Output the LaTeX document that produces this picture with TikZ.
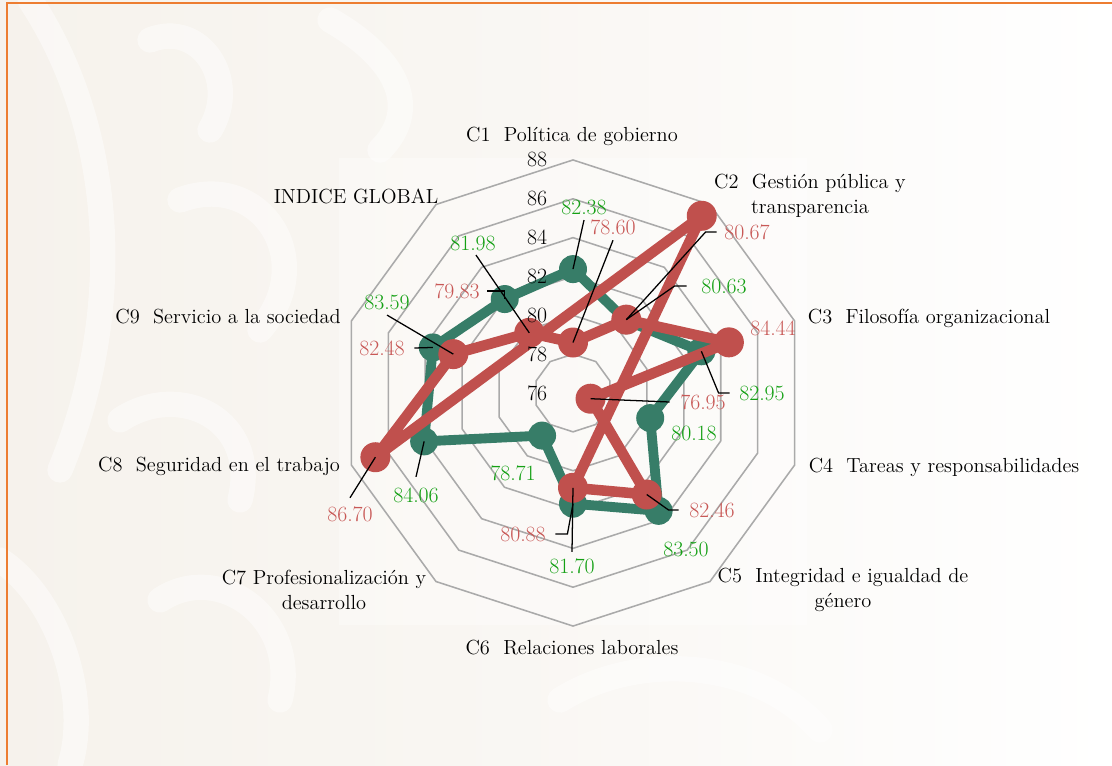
\documentclass[tikz,border=0pt]{standalone}
\usepackage{fontspec}
\usetikzlibrary{calc}
\definecolor{gser}{RGB}{55,125,104}
\definecolor{rser}{RGB}{192,80,77}
\definecolor{glab}{RGB}{20,160,20}
\definecolor{rlab}{RGB}{200,88,86}
\definecolor{gridgray}{RGB}{170,170,170}
\definecolor{bgbeige}{RGB}{246,242,236}
\definecolor{frameorange}{RGB}{237,125,49}
\tikzstyle{ring} = [gridgray, line width=1.1pt, line join=round]
\tikzstyle{gline} = [gser, line width=7pt, line join=round]
\tikzstyle{rline} = [rser, line width=7.5pt, line join=round]
\tikzstyle{leader} = [black, line width=0.9pt]
\tikzstyle{wm} = [white, line width=18pt, line cap=round, opacity=0.45]
\tikzstyle{cat} = [font=\fontsize{14.5}{18}\selectfont, align=center, inner sep=1pt]
\tikzstyle{tick} = [font=\fontsize{15.5}{18}\selectfont, inner sep=1pt]
\tikzstyle{glabel} = [font=\fontsize{15.5}{18}\selectfont, text=glab, inner sep=1pt]
\tikzstyle{rlabel} = [font=\fontsize{15.5}{18}\selectfont, text=rlab, inner sep=1pt]
\def\u{19.42}

\begin{document}
\begin{tikzpicture}[x=0.025cm, y=-0.025cm]
\useasboundingbox (0,0) rectangle (1112,765);

% background and watermark
\shade[left color=bgbeige, right color=white, middle color=bgbeige!60] (0,0) rectangle (1112,765);
\draw[wm] (30,0) .. controls (110,120) and (130,300) .. (60,470);
\draw[wm] (150,40) .. controls (200,20) and (240,80) .. (210,130);
\draw[wm] (180,200) .. controls (260,170) and (320,260) .. (260,330);
\draw[wm] (120,420) .. controls (180,380) and (260,420) .. (240,500);
\draw[wm] (0,560) .. controls (60,600) and (90,700) .. (70,765);
\draw[wm] (160,600) .. controls (220,560) and (300,620) .. (280,700);
\draw[wm] (330,20) .. controls (400,60) and (420,110) .. (380,150);
\draw[wm] (560,700) .. controls (640,650) and (760,660) .. (820,730);
\fill[white, opacity=0.35] (339,158) rectangle (807,625);
\draw[frameorange, line width=1.5pt] (7,765) -- (7,3) -- (1112,3);

\begin{scope}[shift={(573,393)}]
% rings 78 .. 88
\foreach \k in {2,4,...,12}
  \draw[ring] (-90:{\k*\u}) \foreach \a in {-54,-18,18,54,90,126,162,198,234} { -- (\a:{\k*\u}) } -- cycle;

% series points
\foreach \n/\a/\v in {c1/-90/6.38, c2/-54/4.63, c3/-18/6.95, c4/18/4.18, c5/54/7.50,
                      c6/90/5.70, c7/126/2.71, c8/162/8.06, c9/-162/7.59, ig/-126/5.98}
  \coordinate (g\n) at (\a:{\v*\u});
\foreach \n/\a/\v in {c1/-90/2.60, c2/-54/4.67, c3/-18/8.44, c4/18/0.95, c5/54/6.46,
                      c6/90/4.88, x/-54/11.28, c8/162/10.70, c9/-162/6.48, ig/-126/3.83}
  \coordinate (r\n) at (\a:{\v*\u});
\end{scope}

% green series
\draw[gline] (gc1) -- (gc2) -- (gc3) -- (gc4) -- (gc5) -- (gc6) -- (gc7) -- (gc8) -- (gc9) -- (gig) -- cycle;
\foreach \n in {c1,c2,c3,c4,c5,c6,c7,c8,c9,ig}
  \fill[gser] (g\n) circle (14);

% red series
\draw[rline] (rc1) -- (rc2) -- (rc3) -- (rc4) -- (rc5) -- (rc6) -- (rx) -- (rc8) -- (rc9) -- (rig) -- cycle;
\foreach \n in {c1,c2,c3,c4,c5,c6,x,c8,c9,ig}
  \fill[rser] (r\n) circle (15);

% axis values
\foreach \v in {76,78,...,88}
  \node[tick] (t\v) at (537,{393-(\v-76)*\u}) {\v};

% categories
\node[cat] (n1) at (572,136) {C1~~Política de gobierno};
\node[cat] (n2) at (810,196) {C2~~Gestión pública y\\transparencia};
\node[cat] (n3) at (929,318) {C3~~Filosofía organizacional};
\node[cat] (n4) at (944,467) {C4~~Tareas y responsabilidades};
\node[cat] (n5) at (843,590) {C5~~Integridad e igualdad de\\género};
\node[cat] (n6) at (572,648) {C6~~Relaciones laborales};
\node[cat] (n7) at (324,590) {C7 Profesionalización y\\desarrollo};
\node[cat] (n8) at (219,466) {C8~~Seguridad en el trabajo};
\node[cat] (n9) at (228,317) {C9~~Servicio a la sociedad};
\node[cat] (nig) at (356,196) {INDICE GLOBAL};

% data labels
\node[glabel] (lg1) at (584,207) {82.38};
\node[glabel] (lg2) at (724,286) {80.63};
\node[glabel] (lg3) at (762,393) {82.95};
\node[glabel] (lg4) at (694,433) {80.18};
\node[glabel] (lg5) at (686,549) {83.50};
\node[glabel] (lg6) at (572,566) {81.70};
\node[glabel] (lg7) at (513,473) {78.71};
\node[glabel] (lg8) at (416,495) {84.06};
\node[glabel] (lg9) at (387,302) {83.59};
\node[glabel] (lgig) at (473,243) {81.98};
\node[rlabel] (lr1) at (613,227) {78.60};
\node[rlabel] (lr2) at (747,232) {80.67};
\node[rlabel] (lr3) at (773,328) {84.44};
\node[rlabel] (lr4) at (703,402) {76.95};
\node[rlabel] (lr5) at (712,510) {82.46};
\node[rlabel] (lr6) at (523,534) {80.88};
\node[rlabel] (lr8) at (350,514) {86.70};
\node[rlabel] (lr9) at (382,348) {82.48};
\node[rlabel] (lrig) at (457,291) {79.83};

% leader lines
\draw[leader] ($(lg1.south)+(0,4)$) -- (gc1);
\draw[leader] ($(lr1.south)+(0,4)$) -- (rc1);
\draw[leader] ($(lgig.south)+(3,3)$) -- (rig);
\draw[leader] ($(lrig.east)+(6,0)$) -| (gig);
\draw[leader] ($(lg9.south)+(0,4)$) -- (rc9);
\draw[leader] ($(lr9.east)+(8,0)$) -- (gc9);
\draw[leader] ($(lr2.west)+(-6,0)$) -- ++(-11,0) -- (rc2);
\draw[leader] ($(lg2.west)+(-13,0)$) -- ++(-12,0) -- (rc2);
\draw[leader] ($(lg3.west)+(-8,0)$) -- ++(-11,0) -- (gc3);
\draw[leader] ($(lr4.west)+(-9,0)$) -- (rc4);
\draw[leader] ($(lr5.west)+(-9,0)$) -- ++(-10,0) -- (rc5);
\draw[leader] ($(lg6.north)+(0,-5)$) -- (rc6);
\draw[leader] ($(lr6.east)+(8,0)$) -- ++(12,0) -- (gc6);
\draw[leader] ($(lg8.north)+(0,-9)$) -- (gc8);
\draw[leader] ($(lr8.north)+(0,-7)$) -- (rc8);
\end{tikzpicture}
\end{document}
